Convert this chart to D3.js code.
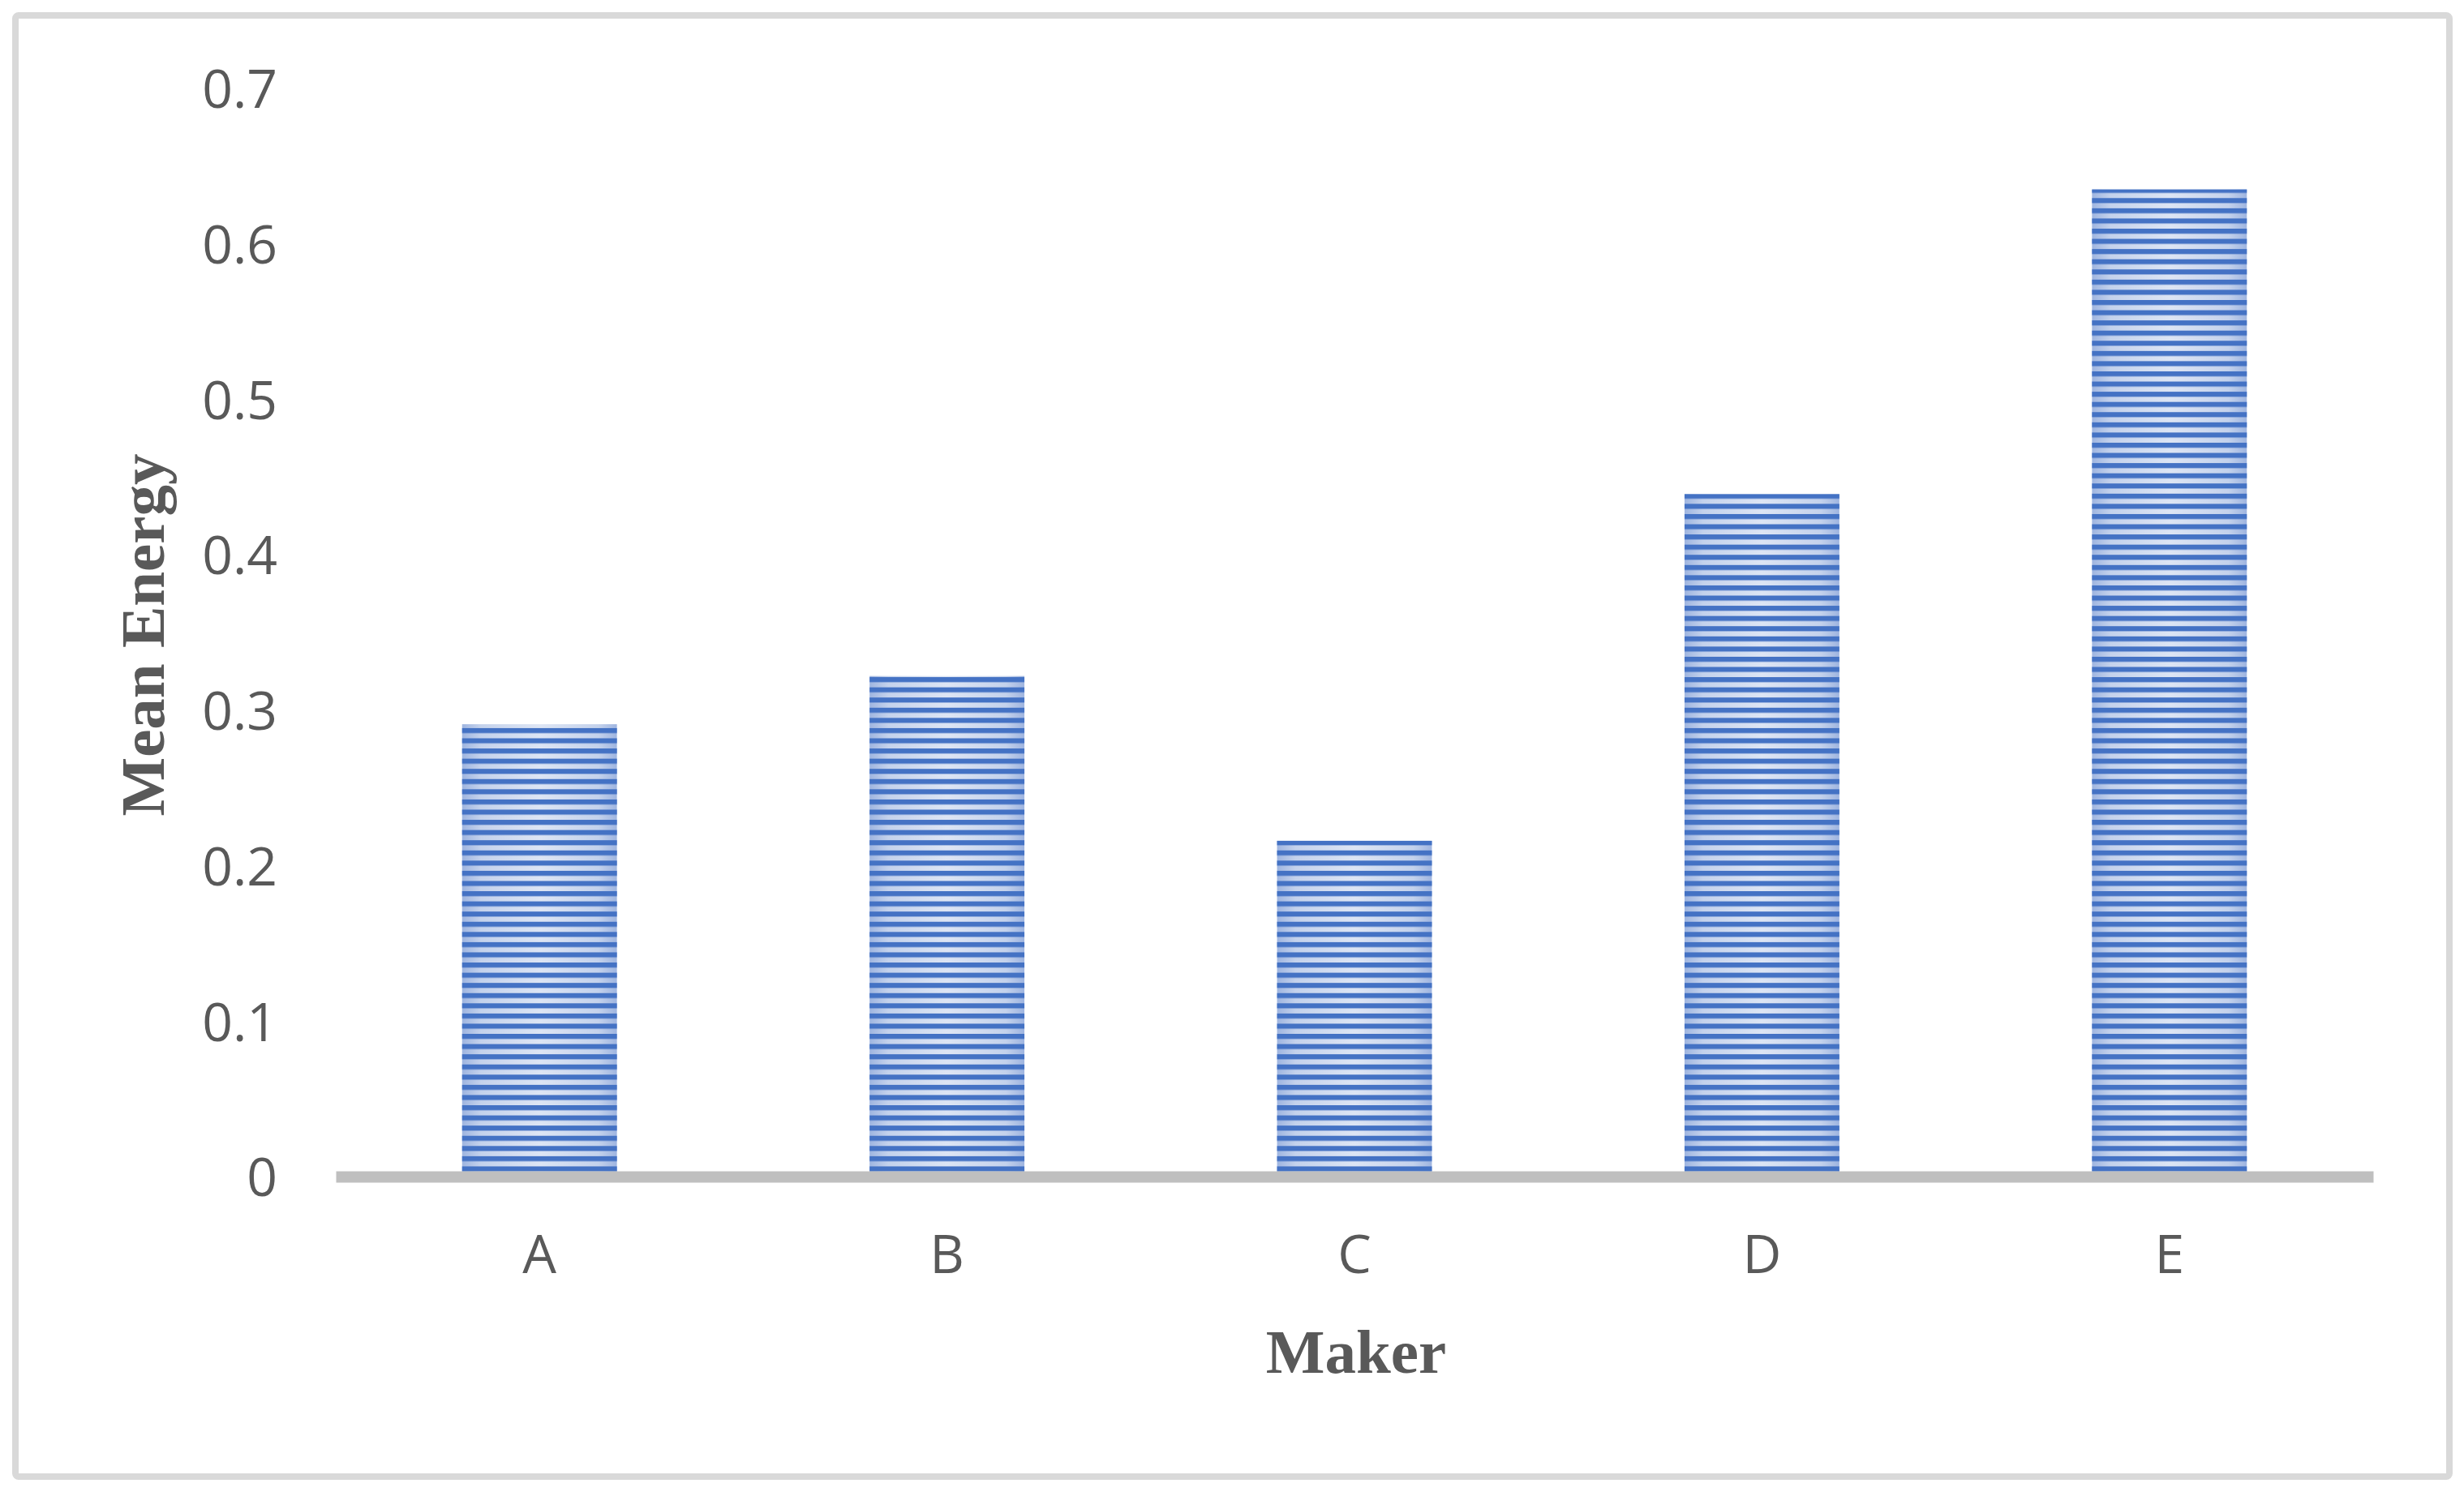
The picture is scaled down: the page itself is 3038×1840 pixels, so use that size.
<!DOCTYPE html>
<html>
<head>
<meta charset="utf-8">
<script src="https://cdn.jsdelivr.net/npm/d3@7"></script>
<style>
html,body{margin:0;padding:0;background:#fff;}
svg{display:block;}
</style>
</head>
<body>
<svg id="chart" width="3038" height="1840"></svg>
<script>
const categories = ["A", "B", "C", "D", "E"];
const meanEnergy = [0.291, 0.322, 0.216, 0.439, 0.635];
const yTicks = [0, 0.1, 0.2, 0.3, 0.4, 0.5, 0.6, 0.7];
const yTickLabels = ["0", "0.1", "0.2", "0.3", "0.4", "0.5", "0.6", "0.7"];
const xTitle = "Maker";
const yTitle = "Mean Energy";

const svg = d3.select("#chart");
const W = 3038, H = 1840;

svg.append("rect").attr("width", W).attr("height", H).attr("fill", "#fff");
svg.append("rect")
  .attr("x", 19).attr("y", 19).attr("width", 3001).attr("height", 1802)
  .attr("rx", 4)
  .attr("fill", "#fff").attr("stroke", "#d9d9d9").attr("stroke-width", 8);

const x = d3.scaleBand().domain(categories).range([414, 2926])
  .paddingInner(0.62).paddingOuter(0.31);
const y = d3.scaleLinear().domain([0, 0.7]).range([1451, 109]);

const defs = svg.append("defs");
const grad = defs.append("linearGradient").attr("id", "lightGrad")
  .attr("x1", "0").attr("x2", "1").attr("y1", "0").attr("y2", "0");
grad.append("stop").attr("offset", "0").attr("stop-color", "#9fb5e0");
grad.append("stop").attr("offset", "0.12").attr("stop-color", "#c4d2ec");
grad.append("stop").attr("offset", "0.5").attr("stop-color", "#dde5f4");
grad.append("stop").attr("offset", "0.88").attr("stop-color", "#c4d2ec");
grad.append("stop").attr("offset", "1").attr("stop-color", "#9fb5e0");

const period = 12.57;
const pat = defs.append("pattern").attr("id", "stripes")
  .attr("patternUnits", "userSpaceOnUse")
  .attr("x", 0).attr("y", 1451).attr("width", 40).attr("height", period);
pat.append("rect").attr("x", 0).attr("y", 0).attr("width", 40).attr("height", 6.2)
  .attr("fill", "#4472c4");

const bars = svg.append("g");
const data = categories.map((c, i) => ({ c, v: meanEnergy[i] }));
bars.selectAll("rect.light").data(data).join("rect")
  .attr("class", "light")
  .attr("x", d => x(d.c)).attr("width", x.bandwidth())
  .attr("y", d => y(d.v)).attr("height", d => y(0) - y(d.v))
  .attr("fill", "url(#lightGrad)");
bars.selectAll("rect.dark").data(data).join("rect")
  .attr("class", "dark")
  .attr("x", d => x(d.c)).attr("width", x.bandwidth())
  .attr("y", d => y(d.v)).attr("height", d => y(0) - y(d.v))
  .attr("fill", "url(#stripes)");

// y axis
const yAxis = d3.axisLeft(y).tickValues(yTicks)
  .tickFormat((d, i) => yTickLabels[i]).tickSize(0).tickPadding(0);
const gy = svg.append("g").attr("transform", "translate(342,0)").call(yAxis);
gy.select(".domain").remove();
gy.selectAll("text").attr("dy", "0.36em")
  .attr("font-family", "'Open Sans', sans-serif").attr("font-size", 66)
  .attr("fill", "#595959");

// x axis
const xAxis = d3.axisBottom(x).tickSize(0).tickSizeOuter(0).tickPadding(72);
const gx = svg.append("g").attr("transform", "translate(0," + y(0) + ")").call(xAxis);
gx.select(".domain").attr("stroke", "#bfbfbf").attr("stroke-width", 14);
gx.selectAll("text")
  .attr("font-family", "'Open Sans', sans-serif").attr("font-size", 66)
  .attr("fill", "#595959");

// titles
svg.append("text").attr("x", 1672).attr("y", 1693)
  .attr("text-anchor", "middle")
  .attr("font-family", "'Liberation Serif', serif").attr("font-weight", "bold")
  .attr("font-size", 77).attr("fill", "#595959").text(xTitle);
svg.append("text")
  .attr("transform", "translate(202,783) rotate(-90)")
  .attr("text-anchor", "middle")
  .attr("font-family", "'Liberation Serif', serif").attr("font-weight", "bold")
  .attr("font-size", 77).attr("fill", "#595959").text(yTitle);
</script>
</body>
</html>
